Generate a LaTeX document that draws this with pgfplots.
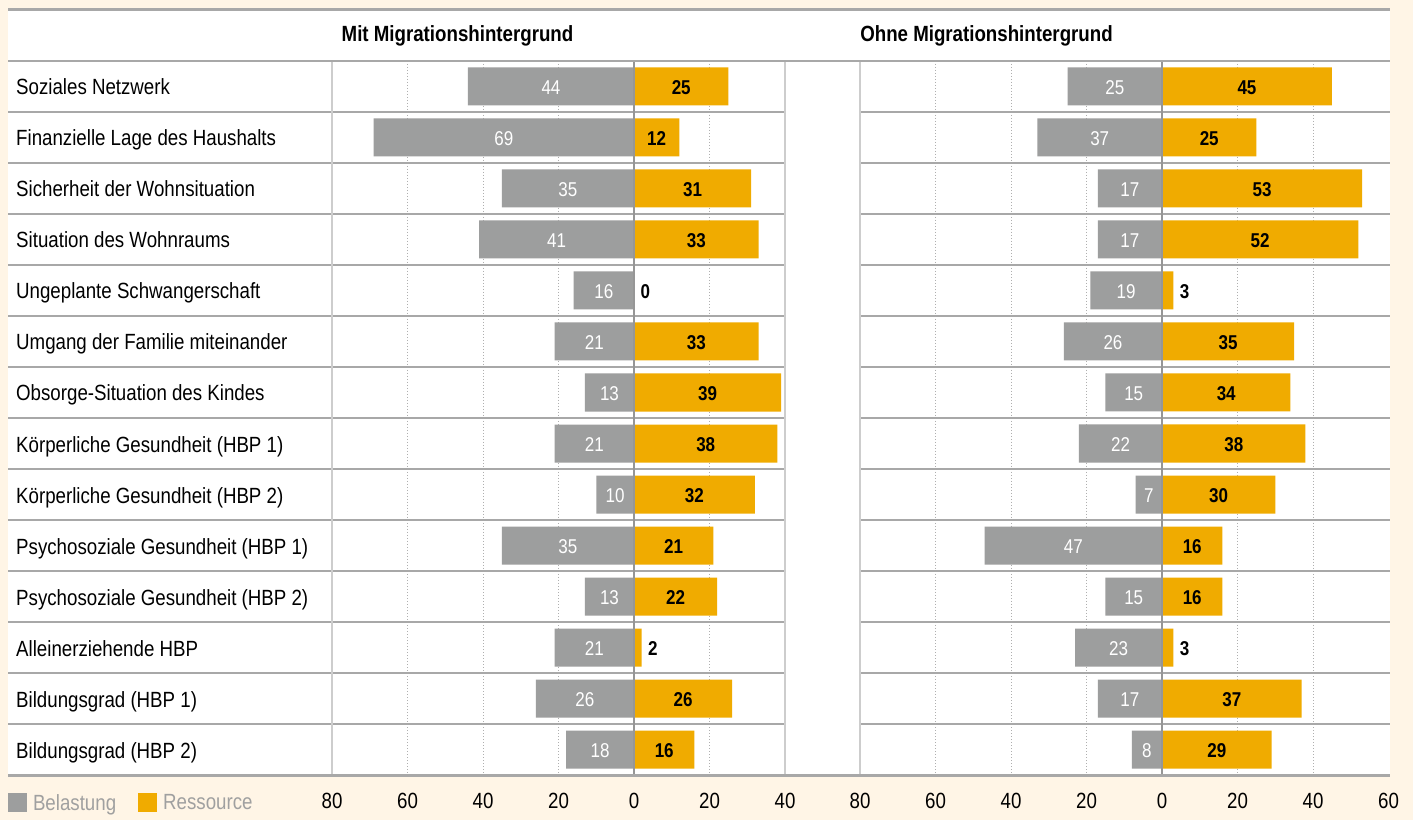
\documentclass[border=0pt]{standalone}
\usepackage{pgfplots}
\pgfplotsset{compat=1.18}
\usepackage{pgfplotstable}
\usepackage{fontspec}
\setmainfont{Liberation Sans}[FakeStretch=0.85]

\definecolor{cream}{RGB}{255,245,230}
\definecolor{barGray}{RGB}{157,158,158}
\definecolor{barOrange}{RGB}{240,171,0}
\definecolor{lineGray}{RGB}{168,168,168}
\definecolor{sepGray}{RGB}{205,205,205}
\definecolor{zeroGray}{RGB}{150,150,150}
\definecolor{gridGray}{RGB}{175,175,175}
\definecolor{legText}{RGB}{160,160,160}

% bel = Belastung label, len = drawn bar length, res = Ressource
\pgfplotstableread{
row bel len res
0 44 44 25
1 69 69 12
2 35 35 31
3 41 41 33
4 16 16 0
5 21 21 33
6 13 13 39
7 21 21 38
8 10 10 32
9 35 35 21
10 13 13 22
11 21 21 2
12 26 26 26
13 18 18 16
}\mitdata

\pgfplotstableread{
row bel len res
0 25 25 45
1 37 33 25
2 17 17 53
3 17 17 52
4 19 19 3
5 26 26 35
6 15 15 34
7 22 22 38
8 7 7 30
9 47 47 16
10 15 15 16
11 23 23 3
12 17 17 37
13 8 8 29
}\ohnedata

\newcommand{\lblfont}{\fontsize{22bp}{26bp}\selectfont}
\newcommand{\valfont}{\fontsize{20bp}{24bp}\selectfont}

\pgfplotsset{
  panel/.style={
    scale only axis, anchor=south west, height=714bp,
    ymin=-0.5, ymax=13.5, y dir=reverse,
    axis line style={draw=none}, tick style={draw=none},
    major tick length=0pt,
    xmajorgrids, grid style={gridGray, line width=0.8bp, dash pattern=on 0.8bp off 2.2bp},
    ticklabel style={font=\lblfont},
    xticklabel style={anchor=center, yshift=-26bp},
    extra x tick style={grid=none},
    clip=false,
  },
  belbar/.style={xbar, bar shift=0pt, bar width=38bp, fill=barGray, draw=none,
     legend image code/.code={\fill[barGray] (0bp,-9.5bp) rectangle (19bp,9.5bp);}},
  resbar/.style={xbar, bar shift=0pt, bar width=38bp, fill=barOrange, draw=none,
     legend image code/.code={\fill[barOrange] (0bp,-9.5bp) rectangle (19bp,9.5bp);}},
  bellbl/.style={draw=none, mark=none, forget plot, point meta=explicit,
     nodes near coords={\pgfmathprintnumber[assume math mode=true]{\pgfplotspointmeta}},
     nodes near coords align=center,
     every node near coord/.append style={text=white, font=\valfont, anchor=center, yshift=-1bp}},
  reslbl/.style={draw=none, mark=none, forget plot, point meta=explicit,
     nodes near coords={\pgfmathprintnumber[assume math mode=true]{\pgfplotspointmeta}},
     nodes near coords align=center,
     every node near coord/.append style={text=black, font=\valfont\bfseries, anchor=center, yshift=-1bp}},
}

\begin{document}
\begin{tikzpicture}[x=1bp,y=1bp]
\useasboundingbox (0,0) rectangle (1413,820);
\fill[cream] (0,0) rectangle (1413,820);
\fill[white] (8,45) rectangle (1390,810);

\begin{axis}[panel, at={(332bp,45bp)}, width=453bp,
  xmin=-80, xmax=40,
  xtick={-60,-40,-20,0,20}, xticklabels={60,40,20,0,20},
  extra x ticks={-80,40}, extra x tick labels={80,40},
  ytick={0,...,13},
  yticklabels={Soziales Netzwerk, Finanzielle Lage des Haushalts, Sicherheit der Wohnsituation, Situation des Wohnraums, Ungeplante Schwangerschaft, Umgang der Familie miteinander, Obsorge-Situation des Kindes, Körperliche Gesundheit (HBP 1), Körperliche Gesundheit (HBP 2), Psychosoziale Gesundheit (HBP 1), Psychosoziale Gesundheit (HBP 2), Alleinerziehende HBP, Bildungsgrad (HBP 1), Bildungsgrad (HBP 2)},
  yticklabel style={anchor=base west, xshift=-316bp, yshift=-8.5bp, inner sep=0pt},
  legend style={at={(-0.7152,-0.0392)}, anchor=west, draw=none, fill=none,
    inner sep=0pt, outer sep=0pt, legend columns=-1, font=\lblfont,
    column sep=0pt, nodes={inner sep=0pt, text=legText},
    /tikz/every odd column/.append style={column sep=6bp},
    /tikz/every even column/.append style={column sep=22bp}},
  legend cell align=left,
]
\addplot[belbar] table[x expr=-\thisrow{len}, y=row]{\mitdata};
\addlegendentry{Belastung}
\addplot[resbar] table[x=res, y=row]{\mitdata};
\addlegendentry{Ressource}
\addplot[bellbl] table[x expr=-\thisrow{len}/2, y=row, meta=bel]{\mitdata};
\addplot[reslbl] table[x expr={\thisrow{res}<5 ? \thisrow{res}+3 : \thisrow{res}/2}, y=row, meta=res]{\mitdata};
\end{axis}

\begin{axis}[panel, at={(860bp,45bp)}, width=528.5bp,
  xmin=-80, xmax=60,
  xtick={-60,-40,-20,0,20,40}, xticklabels={60,40,20,0,20,40},
  extra x ticks={-80,60}, extra x tick labels={80,60},
  ytick=\empty,
]
\addplot[belbar] table[x expr=-\thisrow{len}, y=row]{\ohnedata};
\addplot[resbar] table[x=res, y=row]{\ohnedata};
\addplot[bellbl] table[x expr=-\thisrow{len}/2, y=row, meta=bel]{\ohnedata};
\addplot[reslbl] table[x expr={\thisrow{res}<5 ? \thisrow{res}+3 : \thisrow{res}/2}, y=row, meta=res]{\ohnedata};
\end{axis}

% frame lines
\foreach \k in {1,...,13} {
  \draw[lineGray, line width=1.5bp] (8,{759-51*\k}) -- (785,{759-51*\k});
  \draw[lineGray, line width=1.5bp] (860,{759-51*\k}) -- (1390,{759-51*\k});
}
\draw[sepGray, line width=1.5bp] (332,45) -- (332,759);
\draw[sepGray, line width=1.5bp] (785,45) -- (785,759);
\draw[sepGray, line width=1.5bp] (860,45) -- (860,759);
\draw[zeroGray, line width=1.5bp] (634,45) -- (634,759);
\draw[zeroGray, line width=1.5bp] (1162,45) -- (1162,759);
\draw[lineGray, line width=3bp] (8,810) -- (1390,810);
\draw[lineGray, line width=2.5bp] (8,759) -- (1390,759);
\draw[lineGray, line width=3bp] (8,45) -- (1390,45);

\node[font=\lblfont\bfseries, anchor=center] at (457.5,784) {Mit Migrationshintergrund};
\node[font=\lblfont\bfseries, anchor=center] at (986.5,784) {Ohne Migrationshintergrund};
\end{tikzpicture}
\end{document}
